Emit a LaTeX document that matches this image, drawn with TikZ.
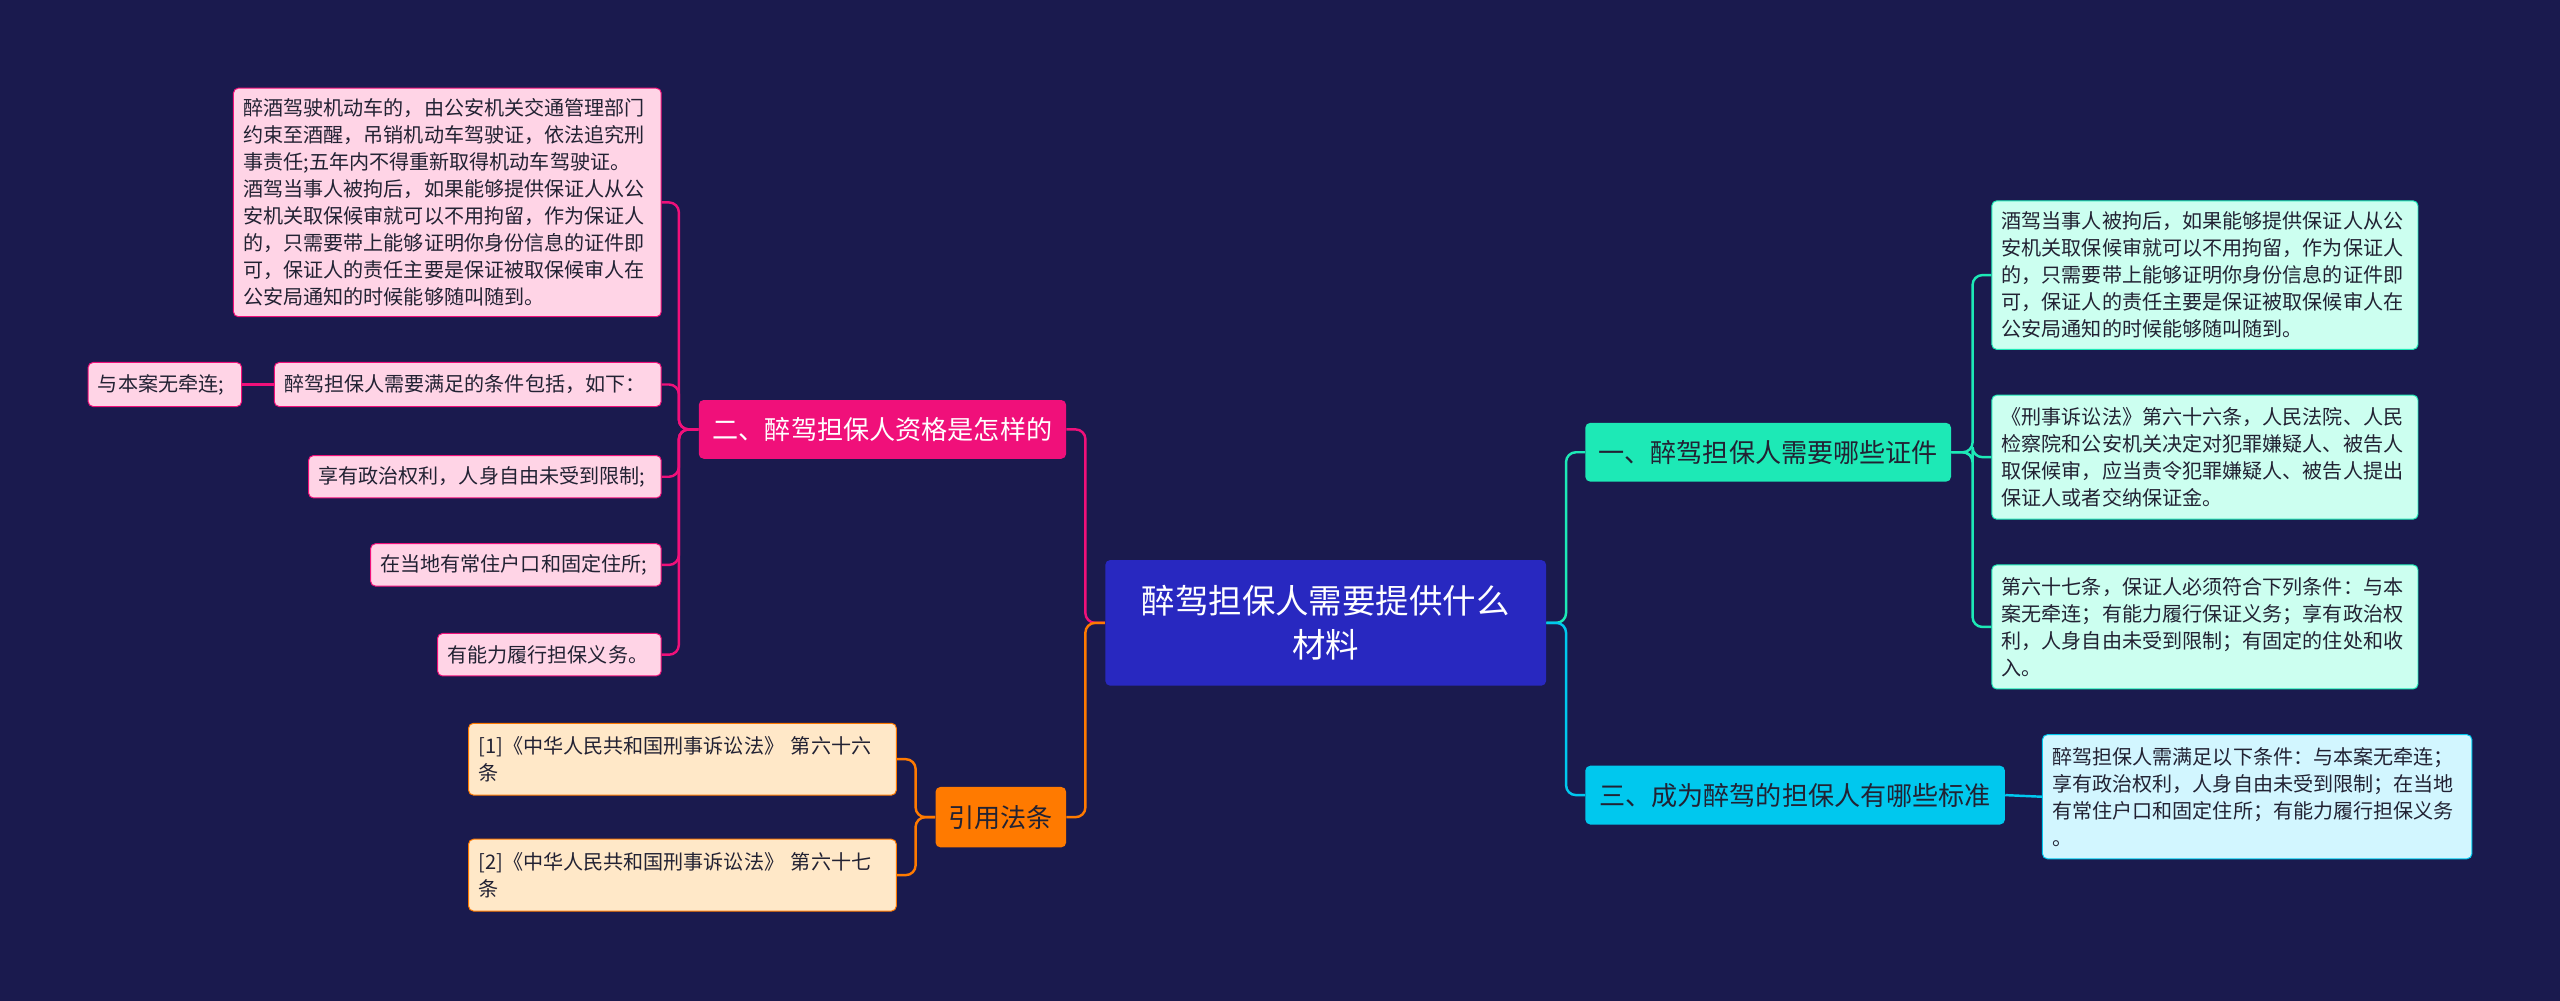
\documentclass[tikz,border=0pt]{standalone}
\usepackage{fontspec}
\setmainfont{Noto Sans CJK SC}
\definecolor{bg}{HTML}{1A1A4E}
\definecolor{cen}{HTML}{2828C0}
\definecolor{teal}{HTML}{1DE9B6}
\definecolor{mint}{HTML}{CCFFF0}
\definecolor{cyanc}{HTML}{00C8EE}
\definecolor{lcyan}{HTML}{D2F6FF}
\definecolor{mag}{HTML}{F0107A}
\definecolor{pink}{HTML}{FFD4E6}
\definecolor{orng}{HTML}{FF7A00}
\definecolor{cream}{HTML}{FFE8C8}
\definecolor{dtxt}{HTML}{222233}
\newcommand{\bx}[7]{\node[#6, minimum width={(#4-#2)*1pt}, minimum height={(#5-#3)*1pt}, text width={(#4-#2-12)*1pt}] (#1) at ({(#2+#4)/2},{(#3+#5)/2}) {#7};}
\tikzset{
 base/.style={rectangle, rounded corners=3pt, inner sep=0pt, align=left, font=\fontsize{12.3}{16.5}\selectfont, text=dtxt},
 big/.style={base, align=center, font=\fontsize{16}{20}\selectfont},
 tealbox/.style={big, fill=teal},
 cyanbox/.style={big, fill=cyanc},
 magbox/.style={big, fill=mag, text=white},
 orbox/.style={big, fill=orng},
 mintbox/.style={base, fill=mint, draw=teal, line width=0.6pt},
 lcbox/.style={base, fill=lcyan, draw=cyanc, line width=0.6pt},
 pinkbox/.style={base, fill=pink, draw=mag, line width=0.6pt},
 creambox/.style={base, fill=cream, draw=orng, line width=0.6pt},
 conn/.style={line width=1.5pt, rounded corners=6pt},
}
\begin{document}
\begin{tikzpicture}[x=1pt,y=-1pt]
\fill[bg] (0,0) rectangle (1568,613);
\useasboundingbox (0,0) rectangle (1568,613);
\node[rectangle, rounded corners=3pt, fill=cen, text=white, minimum width=270pt, minimum height=77pt, align=center, font=\fontsize{20.5}{27}\selectfont] (c) at (812,381.5) {醉驾担保人需要提供什么\\材料};
\bx{r1}{971}{259}{1195}{295}{tealbox}{一、醉驾担保人需要哪些证件}
\bx{r2}{971}{469}{1228}{505}{cyanbox}{三、成为醉驾的担保人有哪些标准}
\bx{l1}{428}{245}{653}{281}{magbox}{二、醉驾担保人资格是怎样的}
\bx{l2}{573}{482}{653}{519}{orbox}{引用法条}
\bx{ra}{1220}{123}{1481}{214}{mintbox}{酒驾当事人被拘后，如果能够提供保证人从公\\安机关取保候审就可以不用拘留，作为保证人\\的，只需要带上能够证明你身份信息的证件即\\可，保证人的责任主要是保证被取保候审人在\\公安局通知的时候能够随叫随到。}
\bx{rb}{1220}{242}{1481}{318}{mintbox}{《刑事诉讼法》第六十六条，人民法院、人民\\检察院和公安机关决定对犯罪嫌疑人、被告人\\取保候审，应当责令犯罪嫌疑人、被告人提出\\保证人或者交纳保证金。}
\bx{rc}{1220}{346}{1481}{422}{mintbox}{第六十七条，保证人必须符合下列条件：与本\\案无牵连；有能力履行保证义务；享有政治权\\利，人身自由未受到限制；有固定的住处和收\\入。}
\bx{rd}{1251}{450}{1514}{526}{lcbox}{醉驾担保人需满足以下条件：与本案无牵连；\\享有政治权利，人身自由未受到限制；在当地\\有常住户口和固定住所；有能力履行担保义务\\。}
\bx{la}{143}{54}{405}{194}{pinkbox}{醉酒驾驶机动车的，由公安机关交通管理部门\\约束至酒醒，吊销机动车驾驶证，依法追究刑\\事责任;五年内不得重新取得机动车驾驶证。\\酒驾当事人被拘后，如果能够提供保证人从公\\安机关取保候审就可以不用拘留，作为保证人\\的，只需要带上能够证明你身份信息的证件即\\可，保证人的责任主要是保证被取保候审人在\\公安局通知的时候能够随叫随到。}
\bx{lb}{168}{222}{405}{249}{pinkbox}{醉驾担保人需要满足的条件包括，如下：}
\bx{lb1}{54}{222}{148}{249}{pinkbox}{与本案无牵连;}
\bx{lc}{189}{279}{405}{305}{pinkbox}{享有政治权利，人身自由未受到限制;}
\bx{ld}{227}{333}{405}{359}{pinkbox}{在当地有常住户口和固定住所;}
\bx{le}{268}{388}{405}{414}{pinkbox}{有能力履行担保义务。}
\bx{oa}{287}{443}{549}{487}{creambox}{[1]《中华人民共和国刑事诉讼法》 第六十六\\条}
\bx{ob}{287}{514}{549}{558}{creambox}{[2]《中华人民共和国刑事诉讼法》 第六十七\\条}
% connectors
\begin{scope}[on background layer/.style={}]
\draw[conn, teal] (c.east) -- ++(12,0) |- (r1.west);
\draw[conn, cyanc] (c.east) -- ++(12,0) |- (r2.west);
\draw[conn, mag] (c.west) -- ++(-12,0) |- (l1.east);
\draw[conn, orng] (c.west) -- ++(-12,0) |- (l2.east);
\foreach \t in {ra,rb,rc}{\draw[conn, teal] (r1.east) -- ++(13,0) |- (\t.west);}
\draw[conn, cyanc] (r2.east) -- (rd.west);
\foreach \t in {la,lb,lc,ld,le}{\draw[conn, mag] (l1.west) -- ++(-12,0) |- (\t.east);}
\draw[conn, mag] (lb.west) -- (lb1.east);
\foreach \t in {oa,ob}{\draw[conn, orng] (l2.west) -- ++(-12,0) |- (\t.east);}
\end{scope}
\end{tikzpicture}
\end{document}
